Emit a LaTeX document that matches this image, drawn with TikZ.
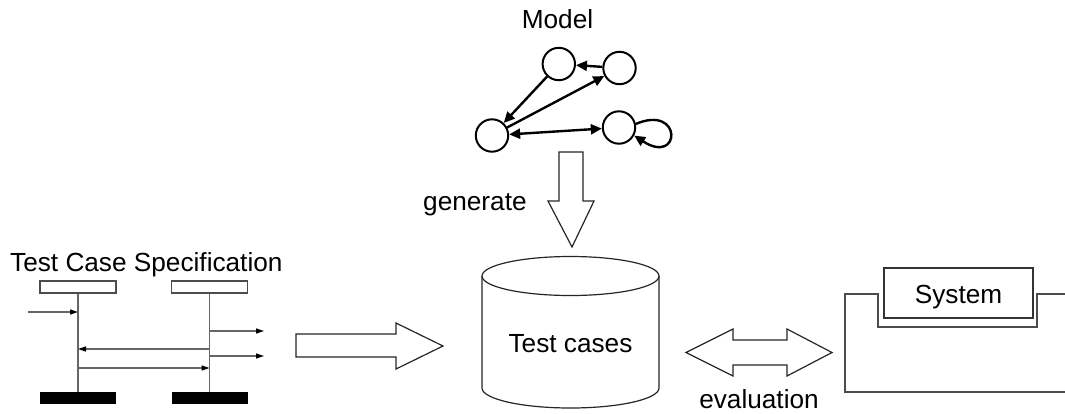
\documentclass[tikz,border=0pt]{standalone}
\usepackage{fontspec}
\setmainfont{Liberation Sans}
\usetikzlibrary{arrows.meta}
\begin{document}
\begin{tikzpicture}[x=1pt,y=-1pt,
  lbl/.style={inner sep=0pt,font=\fontsize{26.2}{30}\selectfont},
  state/.style={circle,draw,line width=2pt,minimum size=32.4pt,inner sep=0pt},
  edge/.style={line width=2.4pt,-{Triangle[length=11pt,width=10pt]}},
  dedge/.style={line width=2.4pt,{Triangle[length=11pt,width=10pt]}-{Triangle[length=11pt,width=10pt]}},
  block/.style={draw=black!85,line width=1.2pt,fill=white,line join=miter},
  head/.style={draw=black!70,line width=1.2pt,fill=white,minimum width=76pt,minimum height=12pt,inner sep=0pt},
  bar/.style={fill=black,minimum width=76pt,minimum height=12pt,inner sep=0pt},
  life/.style={draw=black!60,line width=1.3pt},
  msg/.style={draw=black!60,line width=1.3pt,-{Triangle[length=8pt,width=5pt,fill=black,color=black]}},
  sysline/.style={draw=black!70,line width=1.4pt}]
\useasboundingbox (0,0) rectangle (1065,413);

% ---- model: state graph ----
\node[lbl,anchor=base] (mtitle) at (557.5,28) {Model};
\node[state] (a) at (558.8,64) {};
\node[state] (b) at (619.5,68) {};
\node[state] (c) at (492,135.5) {};
\node[state] (d) at (619,127.5) {};
\draw[edge] (b) -- (a);
\draw[edge] (a) -- (c);
\draw[edge] (c) -- (b);
\draw[dedge] (c) -- (d);
\draw[edge] (d.12) .. controls (683,104) and (681,166) .. (d.-28);

% ---- generate arrow ----
\draw[block] (559,152) -- (583,152) -- (583,201) -- (594,201) -- (572,247)
  -- (548,201) -- (559,201) -- cycle;
\node[lbl,anchor=base west] (gen) at (423,210) {generate};

% ---- test case database ----
\draw[draw=black!85,line width=1.2pt,fill=white]
  (482,276) -- (482,388) .. controls (482,399) and (521.6,408) .. (570.5,408)
  .. controls (619.4,408) and (659,399) .. (659,388) -- (659,276);
\draw[draw=black!85,line width=1.2pt] (570.5,276) ellipse [x radius=88.5pt, y radius=19.5pt];
\node[lbl,anchor=base] (tc) at (570.5,352) {Test cases};

% ---- specification arrow ----
\draw[block] (296,334) -- (396,334) -- (396,323) -- (443,346) -- (396,369)
  -- (396,357) -- (296,357) -- cycle;

% ---- evaluation arrow ----
\draw[block] (686,352.5) -- (733,329) -- (733,340) -- (787,340) -- (787,329)
  -- (832,352.5) -- (787,376) -- (787,365) -- (733,365) -- (733,376) -- cycle;
\node[lbl,anchor=base] (ev) at (759,408) {evaluation};

% ---- test case specification (sequence chart) ----
\node[lbl,anchor=base west] (spec) at (10,271) {Test Case Specification};
\node[head] (h1) at (78,287) {};
\node[head] (h2) at (209.5,287) {};
\node[bar] (e1) at (78,398) {};
\node[bar] (e2) at (209.5,398) {};
\draw[life] (h1.south) -- (e1.north);
\draw[life] (h2.south) -- (e2.north);
\coordinate (in1) at (28,312);
\coordinate (l1) at (78,312);
\coordinate (r1) at (209.5,331);
\coordinate (o1) at (264,331);
\coordinate (r2) at (209.5,349);
\coordinate (l2) at (78,349);
\coordinate (r3) at (209.5,356);
\coordinate (o3) at (264,356);
\coordinate (l4) at (78,368);
\coordinate (r4) at (209.5,368);
\draw[msg] (in1) -- (l1);
\draw[msg] (r1) -- (o1);
\draw[msg] (r2) -- (l2);
\draw[msg] (r3) -- (o3);
\draw[msg] (l4) -- (r4);

% ---- system under test ----
\draw[sysline] (1065,294) -- (1037,294) -- (1037,327) -- (878,327) -- (878,294)
  -- (845,294) -- (845,392) -- (1065,392);
\node[draw=black!80,line width=1.3pt,fill=white,minimum width=149pt,minimum height=50pt,inner sep=0pt] (sys) at (958.5,293) {};
\node[lbl,anchor=base] (systxt) at (958.5,303) {System};
\end{tikzpicture}
\end{document}
